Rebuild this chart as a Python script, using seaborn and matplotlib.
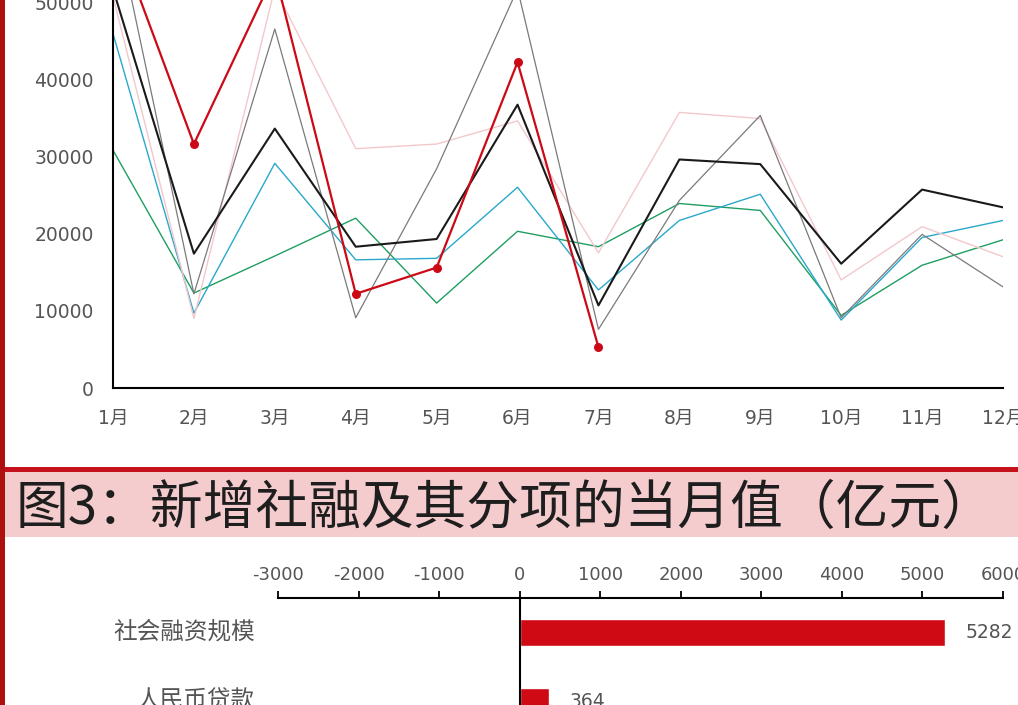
import matplotlib
matplotlib.use("Agg")
import matplotlib.pyplot as plt
import numpy as np
import pandas as pd
import seaborn as sns
from matplotlib.patches import Rectangle
from matplotlib.transforms import blended_transform_factory

# ---- monthly new total social financing (亿元) ----
months = [f"{i}月" for i in range(1, 13)]

tsf_2018 = [30800, 12300, 17100, 22000, 11000, 20300, 18300, 23900, 23000, 9400, 15900, 19200]
tsf_2019 = [45900, 9700, 29100, 16600, 16800, 26000, 12700, 21700, 25100, 8800, 19500, 21700]
tsf_2020 = [50700, 9000, 51800, 31000, 31600, 34600, 17500, 35700, 34900, 14000, 20900, 17000]
tsf_2021 = [51700, 17400, 33600, 18300, 19300, 36700, 10700, 29600, 29000, 16100, 25700, 23400]
tsf_2022 = [61700, 12200, 46500, 9100, 28400, 51700, 7600, 24300, 35300, 9100, 19900, 13100]
tsf_2023 = [59800, 31600, 53800, 12200, 15600, 42200, 5282]

# ---- July breakdown (亿元) ----
items = ["社会融资规模", "人民币贷款"]
item_values = [5282, 364]

W, H = 1018, 705
DPI = 100

sns.set_style("white")
plt.rcParams["font.family"] = ["DejaVu Sans", "Noto Sans CJK SC"]
plt.rcParams["axes.unicode_minus"] = False

fig = plt.figure(figsize=(W / DPI, H / DPI), dpi=DPI)
fig.patch.set_facecolor("white")


def fx(px):
    return px / W


def fy(py):
    return 1 - py / H


# ================= top: line chart =================
ax1 = fig.add_axes([fx(113), fy(388), fx(1003) - fx(113), fy(0) - fy(388)])
pos = np.arange(len(months))

series = [
    ("2018", tsf_2018, "#1f9e62", 1.0),
    ("2019", tsf_2019, "#2aa8cc", 1.0),
    ("2020", tsf_2020, "#f3c8cc", 1.0),
    ("2022", tsf_2022, "#7a7a7a", 0.9),
    ("2021", tsf_2021, "#1a1a1a", 1.5),
]
for name, vals, col, lw in series:
    df = pd.DataFrame({"pos": pos[: len(vals)], "value": vals})
    sns.lineplot(data=df, x="pos", y="value", color=col, linewidth=lw,
                 ax=ax1, legend=False, sort=False, estimator=None)

df23 = pd.DataFrame({"pos": pos[: len(tsf_2023)], "value": tsf_2023})
sns.lineplot(data=df23, x="pos", y="value", color="#cc0a16", linewidth=1.6,
             marker="o", markersize=6.5, markeredgewidth=0,
             ax=ax1, legend=False, sort=False, estimator=None)

ax1.set_xlim(0, 11)
ax1.set_ylim(0, 50000 * 388 / 386)
ax1.set_xticks(pos)
ax1.set_xticklabels(months)
ax1.set_yticks(np.arange(0, 50001, 10000))
ax1.set_yticklabels([str(v) for v in range(0, 50001, 10000)])
ax1.set_xlabel("")
ax1.set_ylabel("")
for s in ["top", "right"]:
    ax1.spines[s].set_visible(False)
for s in ["left", "bottom"]:
    ax1.spines[s].set_color("black")
    ax1.spines[s].set_linewidth(1.5)
ax1.tick_params(axis="both", direction="out", length=6, width=1.5,
                color="black", labelcolor="#555555", labelsize=13.5)
ax1.tick_params(axis="y", pad=8)
ax1.tick_params(axis="x", pad=9)
ax1.set_facecolor("none")

# ================= decorations =================
fig.patches.append(Rectangle((0, 0), fx(5), 1, transform=fig.transFigure,
                             facecolor="#ae1010", edgecolor="none", zorder=5))
fig.patches.append(Rectangle((fx(5), fy(537)), 1 - fx(5), fy(472) - fy(537),
                             transform=fig.transFigure, facecolor="#f4cccd",
                             edgecolor="none", zorder=1))
fig.patches.append(Rectangle((fx(5), fy(472)), 1 - fx(5), fy(467) - fy(472),
                             transform=fig.transFigure, facecolor="#c4111b",
                             edgecolor="none", zorder=2))
fig.text(fx(16), fy(508), "图3：新增社融及其分项的当月值（亿元）",
         fontsize=38, family=["Noto Sans CJK SC"], color="#1e1e1e",
         ha="left", va="center", zorder=3)

# ================= bottom: horizontal bar chart =================
cat_h = 69
ax2 = fig.add_axes([fx(278), fy(598 + cat_h * len(items)),
                    fx(1003) - fx(278), cat_h * len(items) / H])
bar_df = pd.DataFrame({"item": items, "value": item_values})
sns.barplot(data=bar_df, y="item", x="value", orient="h", color="#d00a14",
            width=0.38, saturation=1, ax=ax2, legend=False)

ax2.set_xlim(-3000, 6000)
ax2.set_ylim(len(items) - 0.5, -0.5)
ax2.set_xticks(np.arange(-3000, 6001, 1000))
ax2.set_xticklabels([str(v) for v in range(-3000, 6001, 1000)])
ax2.xaxis.tick_top()
ax2.set_xlabel("")
ax2.set_ylabel("")
ax2.spines["bottom"].set_visible(False)
ax2.spines["right"].set_visible(False)
ax2.spines["top"].set_color("black")
ax2.spines["top"].set_linewidth(1.5)
ax2.spines["left"].set_position(("data", 0))
ax2.spines["left"].set_color("black")
ax2.spines["left"].set_linewidth(1.5)
ax2.tick_params(axis="x", direction="out", length=5, width=1.3,
                color="black", labelcolor="#555555", labelsize=13, pad=5)
ax2.set_yticks(np.arange(len(items) - 1) + 0.5)
ax2.set_yticklabels([])
ax2.tick_params(axis="y", direction="out", length=6.5, width=1.3, color="black")
ax2.set_facecolor("none")

lab_tr = blended_transform_factory(ax2.transAxes, ax2.transData)
for i, (name, v) in enumerate(zip(items, item_values)):
    ax2.text(-0.032, i, name, transform=lab_tr, ha="right", va="center",
             fontsize=17, color="#555555", family=["Noto Sans CJK SC"],
             clip_on=False)
    ax2.annotate(str(v), xy=(v, i), xytext=(15, 0), textcoords="offset points",
                 ha="left", va="center", fontsize=13.5, color="#555555",
                 annotation_clip=False)

fig.savefig("out.png", dpi=DPI)
